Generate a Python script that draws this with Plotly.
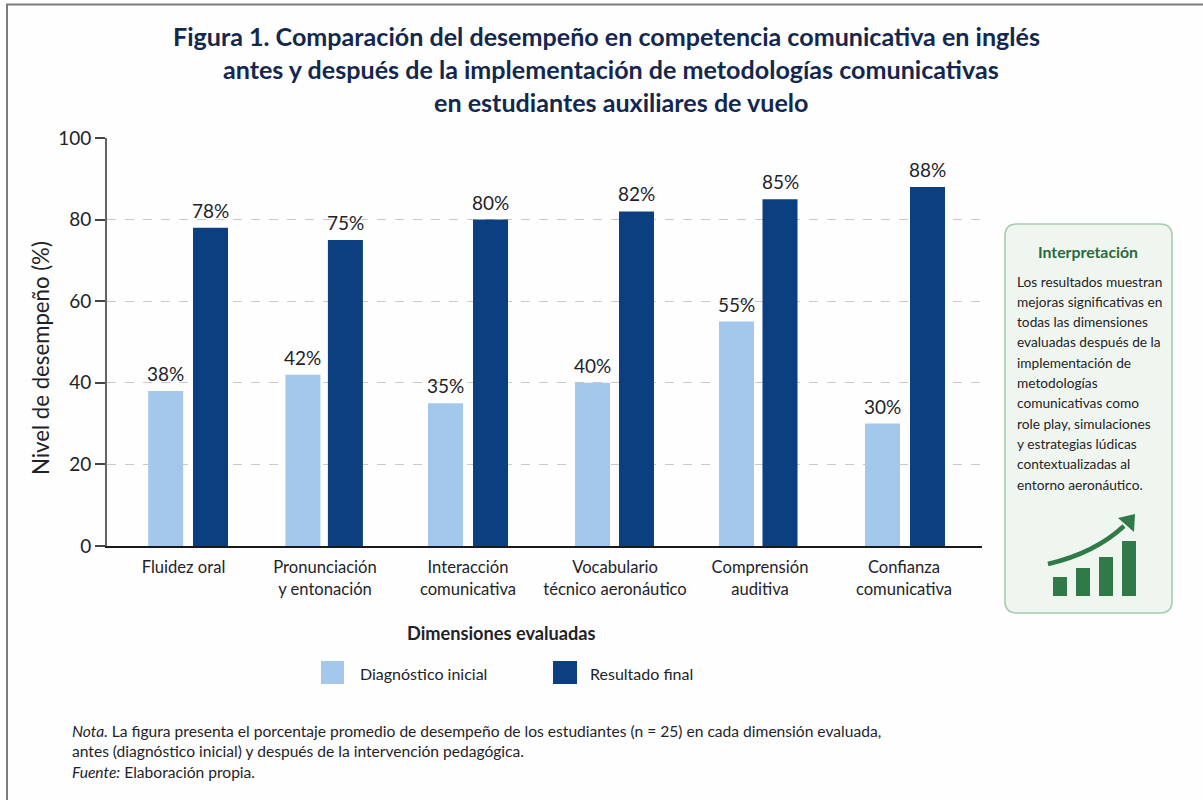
import plotly.graph_objects as go

W, H = 1203, 800

# Chart data
categories = [
    "Fluidez oral",
    "Pronunciación<br>y entonación",
    "Interacción<br>comunicativa",
    "Vocabulario<br>técnico aeronáutico",
    "Comprensión<br>auditiva",
    "Confianza<br>comunicativa",
]
diagnostico_inicial = [38, 42, 35, 40, 55, 30]
resultado_final = [78, 75, 80, 82, 85, 88]
y_ticks = [0, 20, 40, 60, 80, 100]

title_lines = [
    ("Figura 1. Comparación del desempeño en competencia comunicativa en inglés", 606, 36),
    ("antes y después de la implementación de metodologías comunicativas", 611, 69),
    ("en estudiantes auxiliares de vuelo", 621, 102),
]
panel_lines = [
    "Los resultados muestran",
    "mejoras significativas en",
    "todas las dimensiones",
    "evaluadas después de la",
    "implementación de",
    "metodologías",
    "comunicativas como",
    "role play, simulaciones",
    "y estrategias lúdicas",
    "contextualizadas al",
    "entorno aeronáutico.",
]

# Axis placement: x axis units equal one pixel across the plot area
PLOT_L, PLOT_R, PLOT_T, PLOT_B = 107, 982, 138, 546
light_x = [58.7, 195.9, 338.5, 485.5, 629.5, 775.5]
dark_x = [103.5, 238.4, 383.5, 529.5, 673, 820.5]
tick_x = [76.5, 218, 361, 508, 653, 797]
BAR_W = 35

FONT = "Lato"
INK = "#1f2328"
NAVY = "#14284f"
LIGHT = "#a3c8ec"
DARK = "#0c3f80"
GREEN = "#2f7a47"


def px(x):
    return x / W


def py(y):
    return 1 - y / H


def label(text, x, y, size, color=INK, anchor="center", bold=False, angle=0):
    return dict(
        text=f"<b>{text}</b>" if bold else text,
        x=px(x), y=py(y), xref="paper", yref="paper",
        xanchor=anchor, yanchor="middle", showarrow=False,
        borderpad=0, borderwidth=0, textangle=angle,
        font=dict(family=FONT, size=size, color=color),
    )


def box(x0, y0, x1, y1, fill):
    return dict(
        type="rect", xref="paper", yref="paper",
        x0=px(x0), x1=px(x1), y0=py(y0), y1=py(y1),
        fillcolor=fill, line_width=0,
    )


def path(points, fill=None, line=None, width=0):
    """Build a paper-space SVG path from (command, x, y, ...) tuples."""
    parts = []
    for cmd, *coords in points:
        pairs = [f"{px(coords[i])},{py(coords[i + 1])}" for i in range(0, len(coords), 2)]
        parts.append(cmd + " " + " ".join(pairs))
    return dict(
        type="path", xref="paper", yref="paper", path=" ".join(parts),
        fillcolor=fill or "rgba(0,0,0,0)",
        line=dict(color=line or "rgba(0,0,0,0)", width=width),
    )


def rounded(x0, y0, x1, y1, r):
    return [
        ("M", x0 + r, y0), ("L", x1 - r, y0), ("Q", x1, y0, x1, y0 + r),
        ("L", x1, y1 - r), ("Q", x1, y1, x1 - r, y1),
        ("L", x0 + r, y1), ("Q", x0, y1, x0, y1 - r),
        ("L", x0, y0 + r), ("Q", x0, y0, x0 + r, y0), ("Z",),
    ]


fig = go.Figure()
value_labels = []
for name, xs, values, color in [
    ("Diagnóstico inicial", light_x, diagnostico_inicial, LIGHT),
    ("Resultado final", dark_x, resultado_final, DARK),
]:
    fig.add_bar(
        name=name, x=xs, y=values, width=BAR_W,
        marker=dict(color=color, line_width=0),
        showlegend=False,
    )
    # percentage labels float a fixed distance above each bar
    for x, v in zip(xs, values):
        value_labels.append(dict(
            text=f"{v}%", x=x, y=v, xref="x", yref="y",
            xanchor="center", yanchor="middle", yshift=17.5,
            showarrow=False, font=dict(family=FONT, size=19, color=INK),
        ))

shapes = [
    # page frame, open on the right and at the bottom
    path([("M", 7, 800), ("L", 7, 4.5), ("L", 1203, 4.5)], line="#7d7d7d", width=2),
    # interpretation panel
    path(rounded(1005, 224, 1172, 613, 12), fill="#eff6ef", line="#a8cbae", width=1.6),
    # legend swatches
    box(321, 661, 344, 684, LIGHT),
    box(553, 661, 577, 684, DARK),
    # growth icon: bars
    box(1053, 577, 1067, 596, GREEN),
    box(1076, 568, 1090, 596, GREEN),
    box(1099, 557, 1113, 596, GREEN),
    box(1122, 541, 1136, 596, GREEN),
    # growth icon: rising arrow
    path([("M", 1048, 564), ("Q", 1095, 553, 1124, 526)], line=GREEN, width=4.5),
    path([("M", 1135, 514), ("L", 1118, 518), ("L", 1134, 532), ("Z",)], fill=GREEN),
]

annotations = [label(t, x, y, 25.1, NAVY, bold=True) for t, x, y in title_lines]
annotations += value_labels
annotations += [
    label("Nivel de desempeño (%)", 40, 358, 22.2, angle=-90),
    label("Dimensiones evaluadas", 501, 633, 18.2, INK, bold=True),
    label("Diagnóstico inicial", 360, 673, 16, anchor="left"),
    label("Resultado final", 590, 673, 16, anchor="left"),
    label("<i>Nota.</i> La figura presenta el porcentaje promedio de desempeño de los estudiantes (n = 25) en cada dimensión evaluada,", 72, 731, 15.6, anchor="left"),
    label("antes (diagnóstico inicial) y después de la intervención pedagógica.", 72, 751, 15.6, anchor="left"),
    label("<i>Fuente:</i> Elaboración propia.", 72, 772, 15.6, anchor="left"),
    label("Interpretación", 1088, 252, 15.8, "#2a6a40", bold=True),
]
annotations += [
    label(line, 1017, 281 + i * 20.3, 13.7, anchor="left") for i, line in enumerate(panel_lines)
]

fig.update_layout(
    width=W, height=H, autosize=False,
    margin=dict(l=0, r=0, t=0, b=0, autoexpand=False),
    paper_bgcolor="#fefefe", plot_bgcolor="rgba(0,0,0,0)",
    showlegend=False, barmode="overlay",
    font=dict(family=FONT, color=INK),
    shapes=shapes, annotations=annotations,
    xaxis=dict(
        domain=[px(PLOT_L), px(PLOT_R)],
        range=[0, PLOT_R - PLOT_L],
        tickmode="array", tickvals=tick_x, ticktext=categories,
        tickfont=dict(family=FONT, size=16.6, color=INK),
        ticks="", ticklabelstandoff=5, showgrid=False, zeroline=False,
        showline=True, linecolor="#1a1a1a", linewidth=2,
    ),
    yaxis=dict(
        domain=[py(PLOT_B), py(PLOT_T)],
        range=[0, 100],
        tickmode="array", tickvals=y_ticks,
        tickfont=dict(family=FONT, size=19, color=INK),
        ticks="outside", ticklen=10, tickcolor="#444444", tickwidth=1.5,
        showline=True, linecolor="#666666", linewidth=2,
        showgrid=True, gridcolor="#c9c9c9", griddash="dash", gridwidth=1,
        zeroline=False,
    ),
)

fig.write_html("out.html")
